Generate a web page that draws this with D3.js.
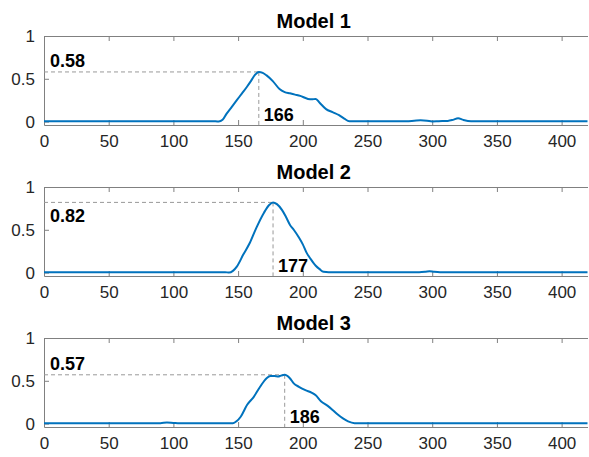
<!DOCTYPE html>
<html>
<head>
<meta charset="utf-8">
<script src="https://cdn.jsdelivr.net/npm/d3@7"></script>
<style>
  body { margin: 0; background: #fff; }
  svg text { font-family: "Liberation Sans", Arial, sans-serif; }
</style>
</head>
<body>
<div id="chart"></div>
<script>
// Data
const titles = ["Model 1", "Model 2", "Model 3"];
const xTicks = [0, 50, 100, 150, 200, 250, 300, 350, 400];
const yTicks = [0, 0.5, 1];

const x1 = [0, 50, 100, 130, 135, 138, 141, 145, 149, 153, 157, 160, 163, 166, 169, 172, 177, 182, 186, 190, 194, 198, 204, 207, 210, 213, 218, 223, 228, 232, 236, 280, 286, 291, 296, 300, 305, 312, 316, 320, 324, 330, 420];
const y1 = [0.005, 0.005, 0.005, 0.005, 0.0, 0.02, 0.09, 0.17, 0.25, 0.33, 0.41, 0.475, 0.545, 0.58, 0.57, 0.54, 0.47, 0.38, 0.345, 0.33, 0.315, 0.30, 0.265, 0.26, 0.265, 0.22, 0.145, 0.11, 0.075, 0.035, 0.005, 0.005, 0.01, 0.015, 0.01, 0.002, 0.005, 0.008, 0.02, 0.038, 0.02, 0.005, 0.005];

const x2 = [0, 50, 100, 140, 143, 146, 149, 154, 159, 164, 170, 174, 177, 180, 184, 187, 190, 193, 197, 200, 203, 206, 210, 213, 216, 220, 290, 295, 298, 301, 306, 420];
const y2 = [0.005, 0.005, 0.005, 0.005, 0.0, 0.02, 0.07, 0.21, 0.345, 0.52, 0.70, 0.79, 0.82, 0.80, 0.73, 0.65, 0.56, 0.50, 0.41, 0.33, 0.23, 0.16, 0.08, 0.04, 0.01, 0.005, 0.005, 0.01, 0.015, 0.01, 0.005, 0.005];

const x3 = [0, 50, 90, 95, 100, 105, 140, 146, 149, 152, 157, 162, 167, 172, 175, 178, 181, 183, 186, 190, 193, 197, 202, 207, 210, 214, 219, 223, 227, 231, 235, 240, 420];
const y3 = [0.005, 0.005, 0.005, 0.012, 0.008, 0.005, 0.005, 0.005, 0.03, 0.08, 0.22, 0.31, 0.43, 0.53, 0.555, 0.555, 0.55, 0.56, 0.57, 0.53, 0.47, 0.43, 0.39, 0.36, 0.33, 0.26, 0.21, 0.16, 0.105, 0.06, 0.025, 0.005, 0.005];

const peakX = [166, 177, 186];
const peakY = [0.58, 0.82, 0.57];

const seriesX = [x1, x2, x3];
const seriesY = [y1, y2, y3];

// Layout
const width = 589, height = 457;
const left = 44, right = 587.5;
const panelTops = [36, 187, 338];
const panelH = 89;
const valueLabelBelow = [false, true, false]; // where the peak value text sits

const svg = d3.select("#chart").append("svg")
    .attr("width", width).attr("height", height);

const x = d3.scaleLinear().domain([0, 420]).range([left, right]);
const axisColor = "#808080";
const textColor = "#262626";
const blue = "#0072BD";

titles.forEach((title, i) => {
    const top = panelTops[i];
    const bottom = top + panelH;
    const y = d3.scaleLinear().domain([-0.04, 1]).range([bottom, top]);
    const g = svg.append("g");

    // title
    g.append("text")
        .attr("x", (left + right) / 2 - 2)
        .attr("y", top - 8)
        .attr("text-anchor", "middle")
        .attr("font-size", "20px")
        .attr("font-weight", "bold")
        .attr("fill", "#000")
        .text(title);

    // bottom axis, ticks inward
    const xb = g.append("g")
        .attr("transform", `translate(0,${bottom})`)
        .call(d3.axisBottom(x).tickValues(xTicks).tickSize(-5).tickSizeOuter(0).tickPadding(10));
    xb.select(".domain").attr("stroke", axisColor);
    xb.selectAll(".tick line").attr("stroke", axisColor);
    xb.selectAll(".tick text").attr("font-size", "17px").attr("fill", textColor);

    // top axis, ticks inward, no labels
    const xt = g.append("g")
        .attr("transform", `translate(0,${top})`)
        .call(d3.axisTop(x).tickValues(xTicks).tickSize(-5).tickSizeOuter(0).tickFormat(""));
    xt.select(".domain").attr("stroke", axisColor);
    xt.selectAll(".tick line").attr("stroke", axisColor);

    // left axis
    const yl = g.append("g")
        .attr("transform", `translate(${left},0)`)
        .call(d3.axisLeft(y).tickValues(yTicks).tickSize(-5).tickSizeOuter(0).tickPadding(9)
            .tickFormat(d => d === 0 ? "0" : d === 1 ? "1" : d3.format(".1f")(d)));
    yl.select(".domain").attr("stroke", axisColor);
    yl.selectAll(".tick line").attr("stroke", axisColor);
    yl.selectAll(".tick text").attr("font-size", "17px").attr("fill", textColor);

    // dashed guides to the peak
    const px = x(peakX[i]), py = y(peakY[i]);
    g.append("line")
        .attr("x1", left).attr("x2", px).attr("y1", py).attr("y2", py)
        .attr("stroke", "#999").attr("stroke-width", 1).attr("stroke-dasharray", "4,3");
    g.append("line")
        .attr("x1", px).attr("x2", px).attr("y1", py).attr("y2", bottom)
        .attr("stroke", "#999").attr("stroke-width", 1).attr("stroke-dasharray", "4,3");

    // curve
    const pts = seriesX[i].map((v, k) => [v, seriesY[i][k]]);
    g.append("path")
        .datum(pts)
        .attr("fill", "none")
        .attr("stroke", blue)
        .attr("stroke-width", 2)
        .attr("d", d3.line().x(d => x(d[0])).y(d => y(d[1])).curve(d3.curveMonotoneX));

    // peak labels
    g.append("text")
        .attr("x", left + 6)
        .attr("y", valueLabelBelow[i] ? py + 20 : py - 5)
        .attr("font-family", "Lato, 'Open Sans', sans-serif")
        .attr("font-weight", "bold")
        .attr("font-size", "18px")
        .attr("fill", "#000")
        .text(d3.format(".2f")(peakY[i]));
    g.append("text")
        .attr("x", px + 5)
        .attr("y", y(0) - 1)
        .attr("font-family", "Lato, 'Open Sans', sans-serif")
        .attr("font-weight", "bold")
        .attr("font-size", "18px")
        .attr("fill", "#000")
        .text(peakX[i]);
});
</script>
</body>
</html>
